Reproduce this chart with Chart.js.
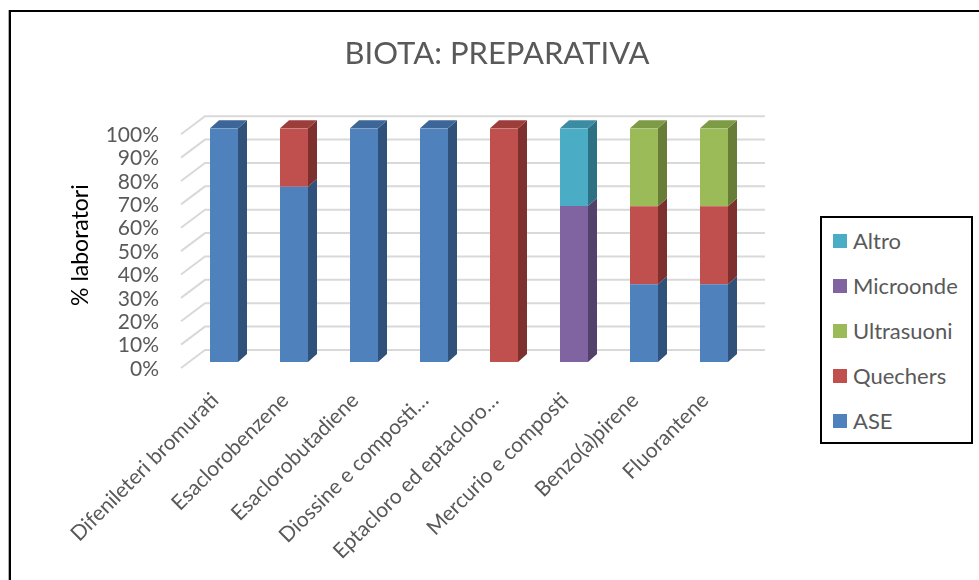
<!DOCTYPE html>
<html>
<head>
<meta charset="utf-8">
<script src="https://cdn.jsdelivr.net/npm/chart.js@4.4.0/dist/chart.umd.min.js"></script>
<style>
  html, body { margin: 0; padding: 0; background: #fff; }
  #wrap { position: relative; width: 979px; height: 580px; overflow: hidden; }
  #frame { position: absolute; left: 9px; top: 10px; width: 990px; height: 600px;
           border-top: 2px solid #000; border-left: 2px solid #000; box-shadow: -1px 0 0 #b0b0b0; }
  #chart { position: absolute; left: 0; top: 0; width: 979px; height: 580px; }
  #legend { position: absolute; left: 820px; top: 216px; width: 149px; height: 224px;
            border: 2px solid #000; background: #fff; font-family: Lato, sans-serif;
            font-size: 22px; color: #595959; }
  #legend .item { height: 45px; line-height: 45px; display: flex; align-items: center; }
  #legend .box { width: 14px; height: 14px; margin-left: 11px; margin-right: 6px; }
</style>
</head>
<body>
<div id="wrap">
  <div id="frame"></div>
  <canvas id="chart" width="979" height="580"></canvas>
  <div id="legend"></div>
</div>
<script>
// categorie e percentuali
const categories = [
  'Difenileteri bromurati',
  'Esaclorobenzene',
  'Esaclorobutadiene',
  'Diossine e composti…',
  'Eptacloro ed eptacloro…',
  'Mercurio e composti',
  'Benzo(a)pirene',
  'Fluorantene'
];
const ase        = [100, 75, 100, 100,   0,    0, 33.3, 33.3];
const quechers   = [  0, 25,   0,   0, 100,    0, 33.3, 33.3];
const ultrasuoni = [  0,  0,   0,   0,   0,    0, 33.4, 33.4];
const microonde  = [  0,  0,   0,   0,   0, 66.7,    0,    0];
const altro      = [  0,  0,   0,   0,   0, 33.3,    0,    0];
const yTicks = [0, 10, 20, 30, 40, 50, 60, 70, 80, 90, 100];

// front / lato / sopra
const palette = {
  ASE:        ['#4f81bd', '#30527a', '#3c6598'],
  Quechers:   ['#c0504d', '#7e302e', '#9c3d3a'],
  Ultrasuoni: ['#9bbb59', '#677d38', '#7d9a45'],
  Microonde:  ['#8064a2', '#54416b', '#685186'],
  Altro:      ['#4bacc6', '#2e7184', '#3b8ca2']
};

const DX = 9, DY = 8;

function poly(ctx, pts, color) {
  ctx.beginPath();
  ctx.moveTo(pts[0][0], pts[0][1]);
  pts.slice(1).forEach((p) => ctx.lineTo(p[0], p[1]));
  ctx.closePath();
  ctx.fillStyle = color;
  ctx.fill();
}

const depth3d = {
  id: 'depth3d',
  beforeDatasetsDraw(chart) {
    const { ctx, chartArea: a, scales: { y } } = chart;
    ctx.save();
    ctx.strokeStyle = '#d9d9d9';
    ctx.lineWidth = 2;
    y.ticks.forEach((t) => {
      const py = y.getPixelForValue(t.value);
      ctx.beginPath();
      ctx.moveTo(a.left - 8, py + 6);
      ctx.lineTo(a.left + 16, py - 12);
      ctx.lineTo(a.right + 16, py - 12);
      ctx.stroke();
    });
    ctx.restore();
  },
  afterDatasetsDraw(chart) {
    const ctx = chart.ctx;
    const metas = chart.getSortedVisibleDatasetMetas().slice().sort((p, q) => p.index - q.index);
    ctx.save();
    chart.data.labels.forEach((_, i) => {
      let top = null;
      metas.forEach((m) => {
        const bar = m.data[i];
        if (!bar || Math.abs(bar.base - bar.y) < 0.5) return;
        const col = palette[chart.data.datasets[m.index].label];
        const r = bar.x + bar.width / 2;
        poly(ctx, [[r, bar.y], [r + DX, bar.y - DY], [r + DX, bar.base - DY], [r, bar.base]], col[1]);
        top = { bar, col };
      });
      if (top) {
        const b = top.bar, l = b.x - b.width / 2, r = b.x + b.width / 2;
        poly(ctx, [[l, b.y], [l + DX, b.y - DY], [r + DX, b.y - DY], [r, b.y]], top.col[2]);
      }
    });
    ctx.restore();
  }
};

const series = [
  ['ASE', ase], ['Quechers', quechers], ['Ultrasuoni', ultrasuoni],
  ['Microonde', microonde], ['Altro', altro]
];

const grey = '#595959';

const chart = new Chart(document.getElementById('chart'), {
  type: 'bar',
  data: {
    labels: categories,
    datasets: series.map(([label, data]) => ({
      label,
      data,
      backgroundColor: palette[label][0],
      borderWidth: 0,
      categoryPercentage: 1,
      barPercentage: 0.4
    }))
  },
  options: {
    responsive: false,
    animation: false,
    layout: { padding: { left: 15, right: 0, top: 0, bottom: 0 } },
    plugins: {
      legend: { display: false },
      tooltip: { enabled: false },
      title: {
        display: true,
        text: 'BIOTA: PREPARATIVA',
        color: grey,
        font: { family: 'Lato', size: 31, weight: 'normal', lineHeight: 1.2 },
        padding: { top: 35, bottom: 56 }
      }
    },
    scales: {
      x: {
        stacked: true,
        grid: { display: false, drawTicks: false },
        border: { display: false },
        ticks: {
          color: grey,
          font: { family: 'Lato', size: 21 },
          maxRotation: 45,
          minRotation: 45,
          autoSkip: false,
          padding: 26,
          labelOffset: -9
        },
        afterFit(s) { s.height = 218; }
      },
      y: {
        stacked: true,
        min: 0,
        max: 100,
        grid: { display: false, drawTicks: false },
        border: { display: false },
        afterBuildTicks(s) { s.ticks = yTicks.map((v) => ({ value: v })); },
        ticks: {
          color: grey,
          font: { family: 'Lato', size: 21 },
          autoSkip: false,
          padding: 30,
          labelOffset: 7,
          callback: (v) => v + '%'
        },
        title: {
          display: true,
          text: '% laboratori',
          color: '#000',
          font: { family: 'Lato', size: 23 },
          padding: { top: 52, bottom: 0 }
        },
        afterFit(s) { s.width = 174; }
      },
      // spazio a destra per la legenda
      side: {
        position: 'right',
        min: 0,
        max: 100,
        grid: { display: false, drawTicks: false },
        border: { display: false },
        ticks: { display: false },
        afterFit(s) { s.width = 230; }
      }
    }
  },
  plugins: [depth3d]
});

// legenda (ordine inverso, come nel grafico)
const legend = document.getElementById('legend');
chart.data.datasets.slice().reverse().forEach((ds) => {
  const item = document.createElement('div');
  item.className = 'item';
  item.innerHTML = `<span class="box" style="background:${ds.backgroundColor}"></span><span>${ds.label}</span>`;
  legend.appendChild(item);
});
</script>
</body>
</html>
